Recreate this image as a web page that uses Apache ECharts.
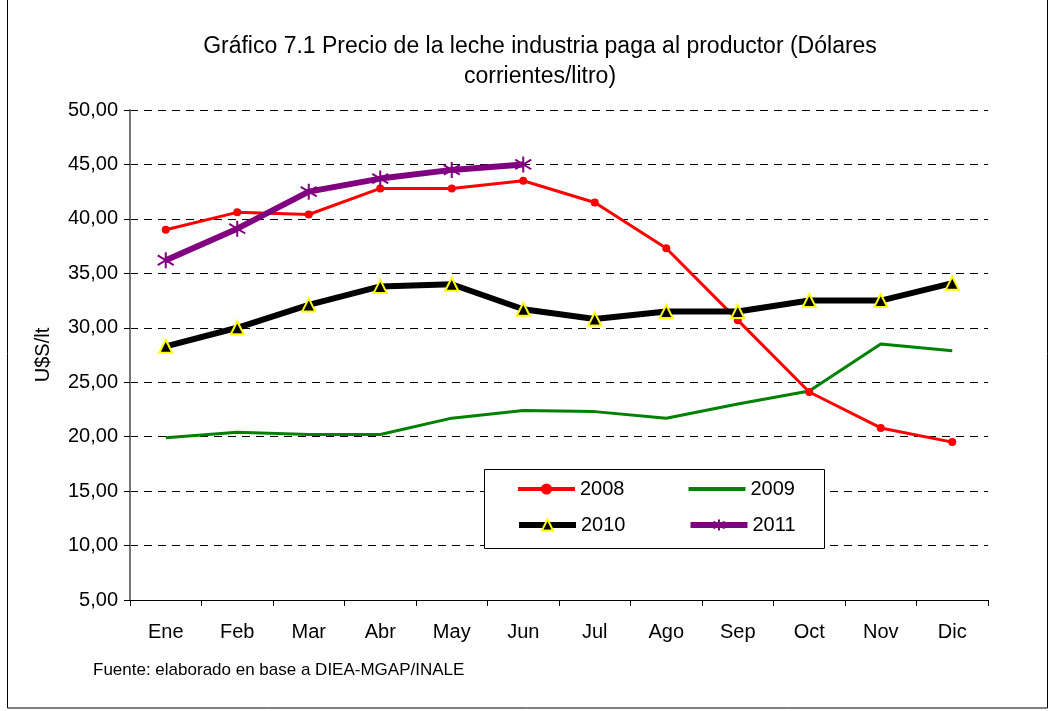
<!DOCTYPE html>
<html>
<head>
<meta charset="utf-8">
<script src="https://cdn.jsdelivr.net/npm/echarts@6/dist/echarts.min.js"></script>
<style>
  html, body { margin: 0; padding: 0; background: #fff; }
  #chart { width: 1061px; height: 711px; }
</style>
</head>
<body>
<div id="chart"></div>
<script>
// meses
const months = ['Ene', 'Feb', 'Mar', 'Abr', 'May', 'Jun', 'Jul', 'Ago', 'Sep', 'Oct', 'Nov', 'Dic']
// precios por año (U$S/lt)
const y2008 = [39.0, 40.6, 40.4, 42.8, 42.8, 43.5, 41.5, 37.3, 30.7, 24.1, 20.8, 19.5]
const y2009 = [19.9, 20.4, 20.2, 20.2, 21.7, 22.4, 22.3, 21.7, 23.0, 24.2, 28.5, 27.9]
const y2010 = [28.3, 30.0, 32.1, 33.8, 34.0, 31.7, 30.8, 31.5, 31.5, 32.5, 32.5, 34.1]
const y2011 = [36.2, 39.1, 42.5, 43.7, 44.5, 45.0]

const font = 'Liberation Sans, Arial, sans-serif'
const asterisk = 'path://M10,0L10,20M1,4L19,16M1,16L19,4'
const legendText = { fontFamily: font, fontSize: 20, color: '#000' }

const chart = echarts.init(document.getElementById('chart'))
const option = {
  backgroundColor: '#fff',
  animation: false,
  title: {
    text: 'Gráfico 7.1 Precio de la leche industria paga al productor (Dólares\ncorrientes/litro)',
    left: 535,
    top: 27,
    textAlign: 'center',
    textStyle: { fontFamily: font, fontSize: 23, fontWeight: 'normal', color: '#000', lineHeight: 30, align: 'center' }
  },
  legend: [
    {
      data: [
        { name: '2008', lineStyle: { width: 4 } },
        { name: '2009', lineStyle: { width: 4 }, itemStyle: { opacity: 0 } }
      ],
      left: 516, top: 479, padding: 0,
      itemWidth: 57, itemHeight: 14, itemGap: 62,
      textStyle: legendText
    },
    {
      data: [
        { name: '2010', lineStyle: { width: 6 } },
        { name: '2011', lineStyle: { width: 6 } }
      ],
      left: 516, top: 515, padding: 0,
      itemWidth: 57, itemHeight: 14, itemGap: 62,
      textStyle: legendText
    }
  ],
  grid: { left: 130, right: 73, top: 110, bottom: 111 },
  xAxis: {
    type: 'category',
    data: months,
    boundaryGap: true,
    axisLine: { lineStyle: { color: '#000', width: 1 } },
    axisTick: { show: true, length: 6, lineStyle: { color: '#000' } },
    axisLabel: { fontFamily: font, fontSize: 20, color: '#000', margin: 22 }
  },
  yAxis: {
    type: 'value',
    min: 5, max: 50, interval: 5,
    name: 'U$S/lt',
    nameLocation: 'middle',
    nameGap: 77,
    nameTextStyle: { fontFamily: font, fontSize: 20, color: '#000' },
    axisLine: { show: true, lineStyle: { color: '#777', width: 2 } },
    axisTick: { show: true, length: 6, lineStyle: { color: '#000' } },
    axisLabel: {
      fontFamily: font, fontSize: 20, color: '#000', margin: 12,
      formatter: v => v.toFixed(2).replace('.', ',')
    },
    splitLine: { show: true, lineStyle: { color: '#000', type: [8, 6], width: 1 } }
  },
  series: [
    {
      name: '2008', type: 'line', data: y2008,
      lineStyle: { color: '#ff0000', width: 3 },
      itemStyle: { color: '#ff0000' },
      symbol: 'circle', symbolSize: 8, z: 3
    },
    {
      name: '2009', type: 'line', data: y2009,
      lineStyle: { color: '#008000', width: 3 },
      itemStyle: { color: '#008000' },
      symbol: 'none', z: 2
    },
    {
      name: '2010', type: 'line', data: y2010,
      lineStyle: { color: '#000', width: 6 },
      itemStyle: { color: '#000', borderColor: '#ffff00', borderWidth: 2 },
      symbol: 'triangle', symbolSize: 13, z: 4
    },
    {
      name: '2011', type: 'line', data: y2011,
      lineStyle: { color: '#800080', width: 6 },
      itemStyle: { color: 'none', borderColor: '#800080', borderWidth: 2 },
      symbol: asterisk, symbolSize: 16, z: 5
    }
  ],
  graphic: [
    {
      type: 'rect', z: -1,
      shape: { x: 7.5, y: -1, width: 1040, height: 709 },
      style: { fill: 'none', stroke: '#000', lineWidth: 1 }
    },
    {
      type: 'rect',
      shape: { x: 484.5, y: 469.5, width: 340, height: 79 },
      style: { fill: '#fff', stroke: '#000', lineWidth: 1 },
      z: 1
    },
    {
      type: 'text', left: 93, top: 662,
      style: { text: 'Fuente: elaborado en base a DIEA-MGAP/INALE', fontFamily: font, fontSize: 17, fill: '#000' }
    }
  ]
}
chart.setOption(option)
</script>
</body>
</html>
